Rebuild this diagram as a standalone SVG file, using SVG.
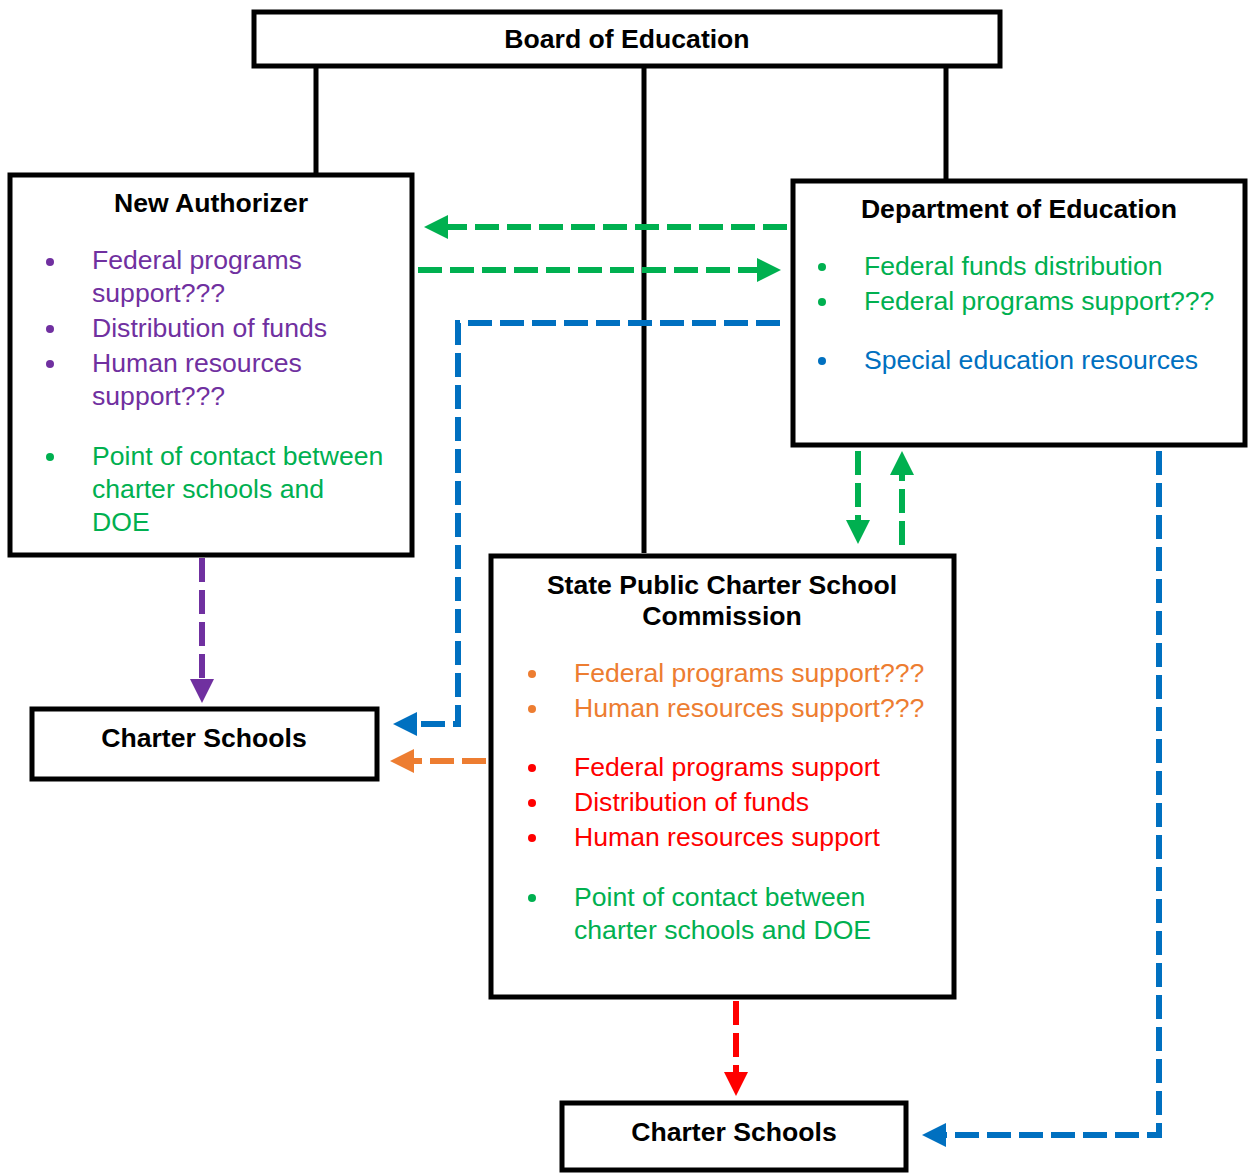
<svg xmlns="http://www.w3.org/2000/svg" width="1248" height="1173" viewBox="0 0 1248 1173">
<defs>
<style>
.box{fill:#fff;stroke:#000;stroke-width:5}
.t{font-family:"Liberation Sans",Arial,sans-serif;font-size:26.6px}
.b{font-weight:bold;fill:#000;text-anchor:middle}
.pu{fill:#7030A0}.gr{fill:#00B050}.bl{fill:#0070C0}.or{fill:#ED7D31}.rd{fill:#FF0000}
.c{fill:none;stroke-width:6;stroke-dasharray:24 8}
.solid{stroke:#000;stroke-width:5;fill:none}
</style>
<marker id="ag" markerUnits="userSpaceOnUse" viewBox="0 0 24 24" refX="0" refY="12" markerWidth="24" markerHeight="24" orient="auto"><path d="M0,0L24,12L0,24z" fill="#00B050"/></marker>
<marker id="ab" markerUnits="userSpaceOnUse" viewBox="0 0 24 24" refX="0" refY="12" markerWidth="24" markerHeight="24" orient="auto"><path d="M0,0L24,12L0,24z" fill="#0070C0"/></marker>
<marker id="ao" markerUnits="userSpaceOnUse" viewBox="0 0 24 24" refX="0" refY="12" markerWidth="24" markerHeight="24" orient="auto"><path d="M0,0L24,12L0,24z" fill="#ED7D31"/></marker>
<marker id="ap" markerUnits="userSpaceOnUse" viewBox="0 0 24 24" refX="0" refY="12" markerWidth="24" markerHeight="24" orient="auto"><path d="M0,0L24,12L0,24z" fill="#7030A0"/></marker>
<marker id="ar" markerUnits="userSpaceOnUse" viewBox="0 0 24 24" refX="0" refY="12" markerWidth="24" markerHeight="24" orient="auto"><path d="M0,0L24,12L0,24z" fill="#FF0000"/></marker>
</defs>
<rect width="1248" height="1173" fill="#fff"/>
<g id="connectors">
<path class="solid" d="M316,67V175M644,67V553M946,67V181"/>
<path class="c" stroke="#00B050" d="M787,227H448" marker-end="url(#ag)"/>
<path class="c" stroke="#00B050" d="M418,270H757" marker-end="url(#ag)"/>
<path class="c" stroke="#0070C0" d="M780,323H458V724H417" marker-end="url(#ab)"/>
<path class="c" stroke="#ED7D31" d="M486,761H414" marker-end="url(#ao)"/>
<path class="c" stroke="#7030A0" d="M202,558V679" marker-end="url(#ap)"/>
<path class="c" stroke="#00B050" d="M858,451V520" marker-end="url(#ag)"/>
<path class="c" stroke="#00B050" d="M902,545V475" marker-end="url(#ag)"/>
<path class="c" stroke="#FF0000" d="M736,1001V1072" marker-end="url(#ar)"/>
<path class="c" stroke="#0070C0" d="M1159,451V1135H946" marker-end="url(#ab)"/>
</g>
<g id="board">
<rect class="box" x="254" y="12" width="746" height="54"/>
<text class="t b" x="627" y="48">Board of Education</text>
</g>
<g id="new-authorizer">
<rect class="box" x="10" y="175" width="402" height="380"/>
<text class="t b" x="211" y="212">New Authorizer</text>
<g class="pu"><circle cx="50" cy="262" r="4"/><circle cx="50" cy="329" r="4"/><circle cx="50" cy="364" r="4"/></g>
<circle class="gr" cx="50" cy="457" r="4"/>
<text class="t pu" x="92" y="269">Federal programs</text>
<text class="t pu" x="92" y="302">support???</text>
<text class="t pu" x="92" y="337">Distribution of funds</text>
<text class="t pu" x="92" y="372">Human resources</text>
<text class="t pu" x="92" y="405">support???</text>
<text class="t gr" x="92" y="465">Point of contact between</text>
<text class="t gr" x="92" y="498">charter schools and</text>
<text class="t gr" x="92" y="531">DOE</text>
</g>
<g id="doe">
<rect class="box" x="793" y="181" width="452" height="264"/>
<text class="t b" x="1019" y="218">Department of Education</text>
<circle class="gr" cx="822" cy="267" r="4"/><circle class="gr" cx="822" cy="302" r="4"/><circle class="bl" cx="822" cy="361" r="4"/>
<text class="t gr" x="864" y="275">Federal funds distribution</text>
<text class="t gr" x="864" y="310">Federal programs support???</text>
<text class="t bl" x="864" y="369">Special education resources</text>
</g>
<g id="commission">
<rect class="box" x="491" y="556" width="463" height="441"/>
<text class="t b" x="722" y="594">State Public Charter School</text>
<text class="t b" x="722" y="625">Commission</text>
<circle class="or" cx="532" cy="674" r="4"/><circle class="or" cx="532" cy="709" r="4"/>
<circle class="rd" cx="532" cy="768" r="4"/><circle class="rd" cx="532" cy="803" r="4"/><circle class="rd" cx="532" cy="838" r="4"/>
<circle class="gr" cx="532" cy="898" r="4"/>
<text class="t or" x="574" y="682">Federal programs support???</text>
<text class="t or" x="574" y="717">Human resources support???</text>
<text class="t rd" x="574" y="776">Federal programs support</text>
<text class="t rd" x="574" y="811">Distribution of funds</text>
<text class="t rd" x="574" y="846">Human resources support</text>
<text class="t gr" x="574" y="906">Point of contact between</text>
<text class="t gr" x="574" y="939">charter schools and DOE</text>
</g>
<g id="charter-left">
<rect class="box" x="32" y="709" width="345" height="70"/>
<text class="t b" x="204" y="747">Charter Schools</text>
</g>
<g id="charter-bottom">
<rect class="box" x="562" y="1103" width="344" height="67"/>
<text class="t b" x="734" y="1141">Charter Schools</text>
</g>
</svg>
